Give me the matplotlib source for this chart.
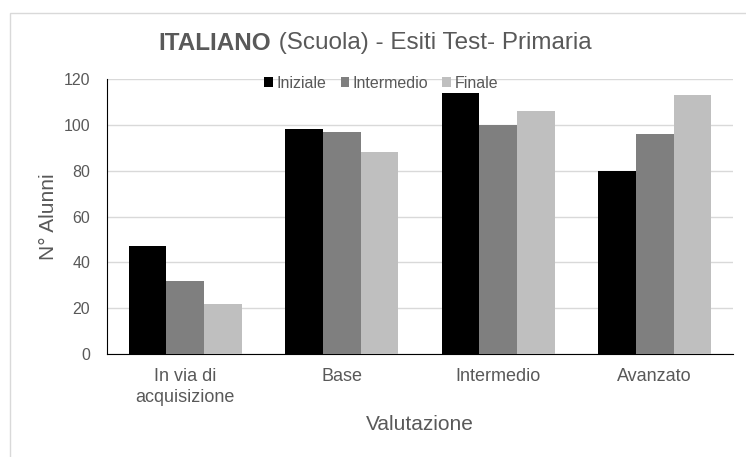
import numpy as np
from matplotlib import pyplot as plt
from matplotlib.patches import Rectangle

plt.rcParams['font.family'] = ['Liberation Sans', 'DejaVu Sans']

# dati
categorie = ['In via di\nacquisizione', 'Base', 'Intermedio', 'Avanzato']
serie = ['Iniziale', 'Intermedio', 'Finale']
iniziale = [47, 98, 114, 80]
intermedio = [32, 97, 100, 96]
finale = [22, 88, 106, 113]
colori = ['#000000', '#7f7f7f', '#bfbfbf']
testo = '#595959'

fig = plt.figure(figsize=(7.46, 4.57), dpi=100)
ax = fig.add_axes([0.1434, 0.2254, 0.8392, 0.6017])

x = np.arange(len(categorie))
w = 0.24
valori = [iniziale, intermedio, finale]
for i in range(0, len(serie)):
    ax.bar(x + (i - 1) * w, valori[i], w, color=colori[i], label=serie[i], zorder=3)

ax.set_xlim(-0.5, len(categorie) - 0.5)
ax.set_ylim(0, 120)
ax.set_yticks(range(0, 121, 20))
ax.set_xticks(x)
ax.set_xticklabels(categorie, fontsize=13, color=testo, linespacing=1.35)
ax.tick_params(axis='y', labelsize=11.5, labelcolor=testo, length=0, pad=12)
ax.tick_params(axis='x', length=0, pad=10)
ax.grid(axis='y', color='#d9d9d9', linewidth=1, zorder=0)
for s in ['top', 'right']:
    ax.spines[s].set_visible(False)
ax.spines['left'].set_color('#000000')
ax.spines['bottom'].set_color('#000000')

ax.set_ylabel('N° Alunni', fontsize=15, color=testo, labelpad=4)
ax.set_xlabel('Valutazione', fontsize=15, color=testo, labelpad=6)

# titolo: parte in grassetto + parte normale, centrato insieme
t1 = fig.text(0, 0.905, 'ITALIANO', fontsize=17.5, fontweight='bold', color=testo, ha='left', va='center')
t2 = fig.text(0, 0.905, ' (Scuola) - Esiti Test- Primaria', fontsize=17.5, color=testo, ha='left', va='center')
r = fig.canvas.get_renderer()
w1 = t1.get_window_extent(r).width
w2 = t2.get_window_extent(r).width
x0 = 375 - (w1 + w2) / 2
t1.set_x(x0 / 746)
t2.set_x((x0 + w1) / 746)

ax.legend(loc='center', bbox_to_anchor=(0.438, 0.985), ncol=3, frameon=False,
          fontsize=11.5, handlelength=0.55, handleheight=0.55, handletextpad=0.2,
          columnspacing=0.9, labelcolor=testo, borderaxespad=0)

fig.patches.append(Rectangle((10 / 746, -0.1), 1.2, 1 - 13 / 457 + 0.1, transform=fig.transFigure,
                             fill=False, edgecolor='#d9d9d9', linewidth=1))

plt.savefig('out.png', dpi=100)
